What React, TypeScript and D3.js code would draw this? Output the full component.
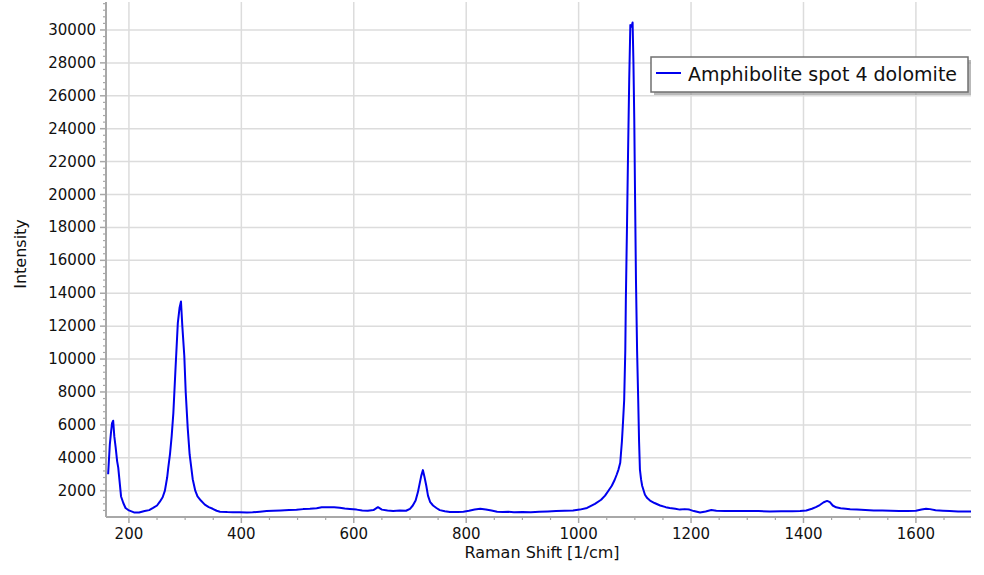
import React from "react";
import * as d3 from "d3";

const shift: number[] = [
  163, 166, 168, 170, 172, 174, 176.5, 179, 181, 186, 190, 194, 200, 209, 218, 228, 236, 243, 250, 255,
  260, 264, 268, 270, 273, 276, 279, 283, 287, 290, 292.6, 295, 298.5, 301, 304.6, 308, 313.5, 318, 322, 328,
  335, 342, 349, 356, 362, 375, 385, 397, 410, 420, 433, 445, 457, 470, 485, 498, 510, 522, 534, 543,
  555, 565, 575, 584, 593, 605, 615, 625, 635, 643, 650, 660, 670, 682, 693, 700, 705, 710, 714, 717,
  720, 723, 726, 729, 732, 736, 741, 747, 753, 762, 771, 785, 795, 805, 815, 825, 835, 845, 855, 865,
  875, 885, 900, 915, 930, 945, 960, 975, 990, 1002, 1015, 1029, 1040, 1047, 1053, 1059, 1064, 1068, 1071, 1074,
  1077, 1079, 1081, 1083, 1084, 1086, 1088, 1090, 1092, 1094, 1096, 1097.5, 1099, 1100.5, 1102, 1104, 1106, 1107.5, 1109, 1111,
  1113, 1118, 1122, 1127, 1135, 1145, 1155, 1162, 1172, 1180, 1189, 1197, 1205, 1216, 1226, 1236, 1245, 1260, 1280, 1300,
  1320, 1340, 1360, 1380, 1394, 1405, 1415, 1422, 1429, 1436, 1442, 1447, 1452, 1458, 1466, 1475, 1483, 1495, 1510, 1525,
  1540, 1555, 1570, 1585, 1600, 1610, 1618, 1625, 1635, 1648, 1660, 1675, 1690, 1698,
];

const intensity: number[] = [
  3000, 4800, 5500, 6100, 6250, 5300, 4600, 3800, 3400, 1650, 1250, 950, 800, 680, 680, 760, 820, 950, 1100, 1330,
  1600, 2000, 2800, 3400, 4200, 5300, 6700, 9500, 12200, 13100, 13500, 12000, 10200, 8000, 5800, 4200, 2700, 2000, 1650, 1400,
  1150, 1000, 900, 780, 725, 700, 690, 690, 680, 690, 725, 760, 785, 800, 820, 845, 880, 900, 930, 990,
  1000, 990, 970, 920, 890, 850, 800, 780, 820, 1000, 850, 790, 770, 800, 780, 900, 1100, 1400, 1900, 2400,
  2900, 3250, 2800, 2300, 1700, 1300, 1100, 950, 820, 750, 700, 700, 720, 780, 860, 900, 860, 790, 720, 700,
  720, 690, 700, 690, 720, 740, 760, 780, 800, 850, 950, 1200, 1450, 1700, 2000, 2300, 2650, 3000, 3300, 3700,
  5000, 6200, 7500, 10500, 13600, 18000, 22700, 27000, 30300, 30200, 30450, 28000, 24500, 19500, 14800, 10500, 7500, 5000, 3300, 2700,
  2300, 1750, 1550, 1400, 1250, 1100, 1000, 950, 900, 850, 880, 850, 760, 680, 740, 830, 780, 760, 770, 760,
  760, 740, 750, 750, 760, 800, 900, 1000, 1130, 1300, 1380, 1300, 1100, 990, 930, 900, 870, 850, 820, 800,
  790, 780, 770, 770, 780, 860, 900, 880, 810, 780, 760, 740, 730, 730,
];

const xTicks: number[] = [200, 400, 600, 800, 1000, 1200, 1400, 1600];
const yTicks: number[] = [2000, 4000, 6000, 8000, 10000, 12000, 14000, 16000, 18000, 20000, 22000, 24000, 26000, 28000, 30000];
const seriesName = "Amphibolite spot 4 dolomite";

const W = 984;
const H = 575;
const left = 107;
const right = 971;
const top = 2;
const bottom = 516;
const font = "'DejaVu Sans', Verdana, sans-serif";

export default function App() {
  const x = d3.scaleLinear().domain([161, 1698]).range([left, right]);
  const y = d3.scaleLinear().domain([462, 31700]).range([bottom, top]);

  const data = shift.map((s, i) => [s, intensity[i]] as [number, number]);
  const line = d3
    .line<[number, number]>()
    .x((d) => x(d[0]))
    .y((d) => y(d[1]));

  const xMinor = d3.range(150, 1700, 50).filter((v) => v >= 161 && v <= 1698 && v % 200 !== 0);
  const yMinor = d3.range(400, 31700, 400).filter((v) => v >= 462 && v % 2000 !== 0);

  const axisColor = "#a8a8a8";
  const gridColor = "#dcdcdc";

  return (
    <svg
      width={W}
      height={H}
      style={{ position: "absolute", left: 0, top: 0, background: "#fff" }}
    >
      <defs>
        <clipPath id="plot">
          <rect x={left} y={top} width={right - left} height={bottom - top} />
        </clipPath>
      </defs>
      {/* grid */}
      {xTicks.map((t) => (
        <line key={"gx" + t} x1={x(t)} x2={x(t)} y1={top} y2={bottom} stroke={gridColor} strokeWidth={1.5} />
      ))}
      {yTicks.map((t) => (
        <line key={"gy" + t} x1={left} x2={right} y1={y(t)} y2={y(t)} stroke={gridColor} strokeWidth={1.5} />
      ))}

      {/* axes */}
      <line x1={left - 1} x2={left - 1} y1={top} y2={bottom + 1} stroke={axisColor} strokeWidth={2} />
      <line x1={left - 1} x2={right} y1={bottom + 1} y2={bottom + 1} stroke={axisColor} strokeWidth={2} />

      {yTicks.map((t) => (
        <g key={"yt" + t}>
          <line x1={left - 7} x2={left} y1={y(t)} y2={y(t)} stroke={axisColor} strokeWidth={1.5} />
          <text
            x={96}
            y={y(t)}
            textAnchor="end"
            dominantBaseline="central"
            fontFamily={font}
            fontSize={15}
            fill="#111"
          >
            {t}
          </text>
        </g>
      ))}
      {yMinor.map((t) => (
        <line key={"ym" + t} x1={left - 4} x2={left} y1={y(t)} y2={y(t)} stroke={axisColor} strokeWidth={1.2} />
      ))}
      {xTicks.map((t) => (
        <g key={"xt" + t}>
          <line x1={x(t)} x2={x(t)} y1={bottom} y2={bottom + 7} stroke={axisColor} strokeWidth={1.5} />
          <text x={x(t)} y={539} textAnchor="middle" fontFamily={font} fontSize={15} fill="#111">
            {t}
          </text>
        </g>
      ))}
      {xMinor.map((t) => (
        <line key={"xm" + t} x1={x(t)} x2={x(t)} y1={bottom} y2={bottom + 4} stroke={axisColor} strokeWidth={1.2} />
      ))}

      {/* titles */}
      <text x={542} y={558} textAnchor="middle" fontFamily={font} fontSize={16} fill="#111">
        Raman Shift [1/cm]
      </text>
      <text
        transform={`translate(26, 254) rotate(-90)`}
        textAnchor="middle"
        fontFamily={font}
        fontSize={16}
        fill="#111"
      >
        Intensity
      </text>

      {/* series */}
      <path d={line(data) || ""} fill="none" stroke="#0000ee" strokeWidth={2} clipPath="url(#plot)" strokeLinejoin="round" />

      {/* legend */}
      <rect x={654} y={60} width={317} height={35} fill="#8a8a8a" opacity={0.6} />
      <rect x={651} y={57} width={317} height={35} fill="#fff" stroke="#707070" strokeWidth={1.5} />
      <line x1={656} x2={681} y1={73} y2={73} stroke="#0000ee" strokeWidth={2} />
      <text x={688} y={81} fontFamily={font} fontSize={19} fill="#111">
        {seriesName}
      </text>
    </svg>
  );
}
